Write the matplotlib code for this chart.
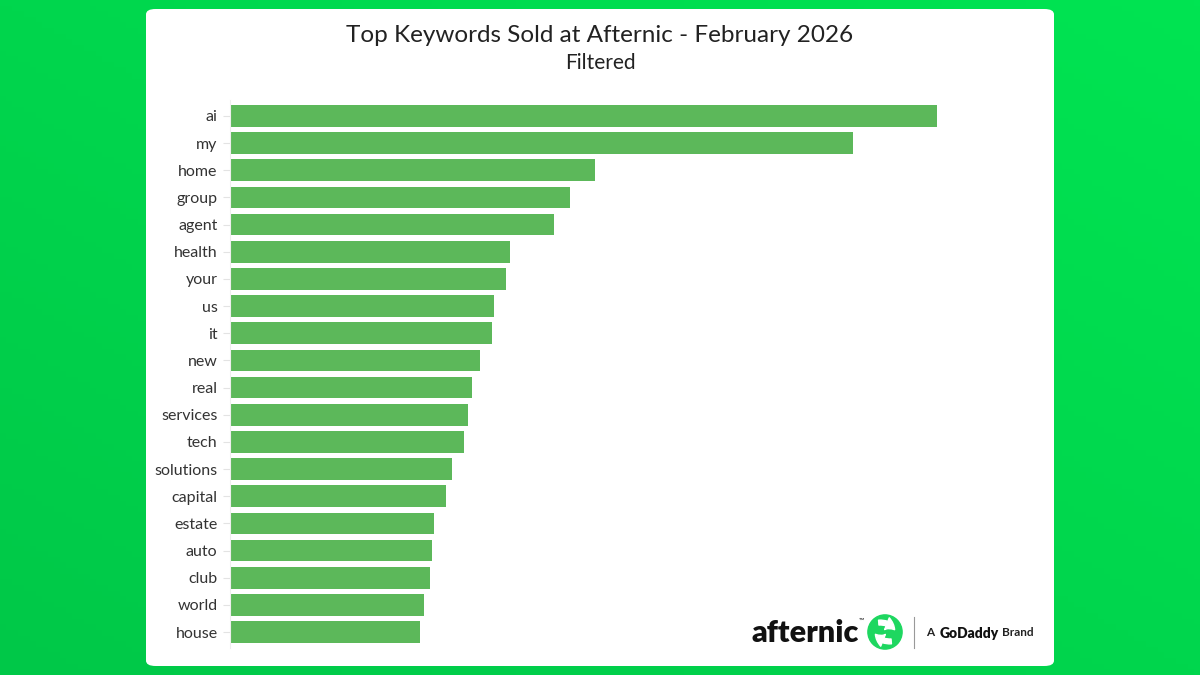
import numpy as np
import matplotlib.pyplot as plt
from matplotlib.patches import FancyBboxPatch, Circle, FancyArrowPatch
from matplotlib.lines import Line2D

keywords = ['ai', 'my', 'home', 'group', 'agent', 'health', 'your', 'us', 'it', 'new',
            'real', 'services', 'tech', 'solutions', 'capital', 'estate', 'auto', 'club',
            'world', 'house']
sales = [354, 312, 183, 170, 162, 140, 138, 132, 131, 125,
         121, 119, 117, 111, 108, 102, 101, 100, 97, 95]

plt.rcParams['font.family'] = ['Lato', 'DejaVu Sans']

fig = plt.figure(figsize=(12, 6.75), dpi=100)

# green gradient background
bg = fig.add_axes([0, 0, 1, 1], zorder=-10)
xx, yy = np.meshgrid(np.linspace(0, 1, 200), np.linspace(0, 1, 120))
t = np.clip((xx + (1 - yy)) / 2, 0, 1)
c0 = np.array([0, 200, 72]) / 255
c1 = np.array([0, 228, 82]) / 255
img = c0[None, None, :] * (1 - t[..., None]) + c1[None, None, :] * t[..., None]
bg.imshow(img, extent=[0, 1, 0, 1], aspect='auto', origin='upper')
bg.set_axis_off()

# white card
card = FancyBboxPatch((146 / 1200, 9 / 675), 908 / 1200, 657 / 675,
                      boxstyle='round,pad=0,rounding_size=0.008',
                      transform=fig.transFigure, facecolor='white',
                      edgecolor='none', zorder=-5)
fig.patches.append(card)

fig.text(0.5, 1 - 36 / 675, 'Top Keywords Sold at Afternic - February 2026',
         ha='center', va='center', fontsize=17.5, color='#222222')
fig.text(0.5, 1 - 63 / 675, 'Filtered', ha='center', va='center', fontsize=15, color='#222222')

ax = fig.add_axes([230 / 1200, 26.7 / 675, 810 / 1200, 548.6 / 675])
ax.set_facecolor('none')
y = np.arange(len(keywords))
ax.barh(y, sales, height=0.8, color='#5cb85a')
ax.set_ylim(19.6, -0.6)
ax.set_xlim(0, max(sales) * 810 / 707)
ax.set_yticks(y)
ax.set_yticklabels(keywords, fontsize=11.5, color='#333333')
ax.tick_params(axis='y', length=5, color='#e3e3e3', pad=4)
ax.set_xticks([])
for s in ['top', 'right', 'bottom']:
    ax.spines[s].set_visible(False)
ax.spines['left'].set_color('#eeeeee')

# afternic logo
fig.text(752 / 1200, 1 - 633 / 675, 'afternic', ha='left', va='center',
         fontsize=22, fontweight='heavy', color='#111111')
fig.text(861 / 1200, 1 - 620 / 675, '™', ha='center', va='center', fontsize=5, color='#111111')
lax = fig.add_axes([(885 - 18) / 1200, 1 - (632 + 18) / 675, 36 / 1200, 36 / 675])
lax.set_xlim(-1, 1)
lax.set_ylim(-1, 1)
lax.set_aspect('equal')
lax.set_axis_off()
lax.add_patch(Circle((0, 0), 0.95, color='#1ed760'))
arrow_style = 'simple,head_width=1.3,head_length=1.0,tail_width=0.5'
lax.add_patch(FancyArrowPatch((-0.5, 0.5), (0.62, 0.0), connectionstyle='arc3,rad=-0.35',
                              arrowstyle=arrow_style, color='white', mutation_scale=7))
lax.add_patch(FancyArrowPatch((0.5, -0.5), (-0.62, 0.0), connectionstyle='arc3,rad=-0.35',
                              arrowstyle=arrow_style, color='white', mutation_scale=7))
fig.add_artist(Line2D([914 / 1200, 914 / 1200], [1 - 648 / 675, 1 - 617 / 675],
                      color='#999999', lw=0.8))
fig.text(926 / 1200, 1 - 633 / 675, 'A', ha='left', va='center', fontsize=8.5,
         fontweight='bold', color='#222222')
fig.text(940 / 1200, 1 - 633 / 675, 'GoDaddy', ha='left', va='center', fontsize=10,
         fontweight='heavy', color='#111111')
fig.text(1002 / 1200, 1 - 633 / 675, 'Brand', ha='left', va='center', fontsize=8.5,
         fontweight='bold', color='#222222')

fig.savefig('out.png', dpi=100)
